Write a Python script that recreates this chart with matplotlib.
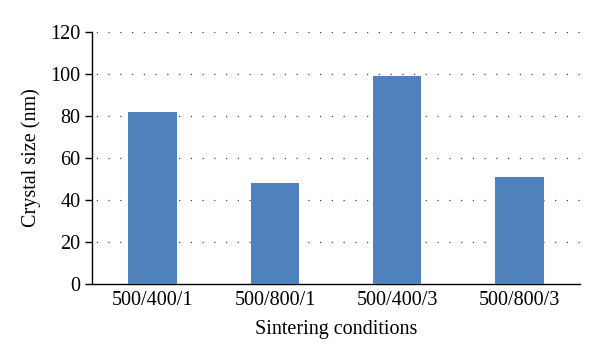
import matplotlib
matplotlib.use('Agg')
import matplotlib.pyplot as plt

condicoes = ['500/400/1', '500/800/1', '500/400/3', '500/800/3']
tamanho_cristal = [82, 48, 99, 51]
ticks_y = [0, 20, 40, 60, 80, 100, 120]

plt.rcParams['font.family'] = ['Liberation Serif', 'DejaVu Serif']

fig = plt.figure(figsize=(6, 3.64), dpi=100)
ax = fig.add_axes([0.153, 0.22, 0.814, 0.692])

x = range(len(condicoes))
ax.bar(x, tamanho_cristal, width=0.4, color='#4f81bd', zorder=3)

ax.set_xlim(-0.5, len(condicoes) - 0.5)
ax.set_ylim(0, 120)
ax.set_yticks(ticks_y)
ax.set_xticks(list(x))
ax.set_xticklabels(condicoes)
ax.yaxis.grid(True, linestyle=(6, (1, 8.4)), color='#444444', linewidth=0.9, zorder=0)

for lado in ['top', 'right']:
    ax.spines[lado].set_visible(False)
ax.spines['left'].set_linewidth(1.0)
ax.spines['bottom'].set_linewidth(1.0)

ax.tick_params(axis='x', length=0, labelsize=14.5, pad=5)
ax.tick_params(axis='y', length=5, width=1.0, labelsize=14.5, pad=3)

ax.set_ylabel('Crystal size (nm)', fontsize=14.5, labelpad=7)
ax.set_xlabel('Sintering conditions', fontsize=14.5, labelpad=7)

fig.savefig('out.png', dpi=100)
